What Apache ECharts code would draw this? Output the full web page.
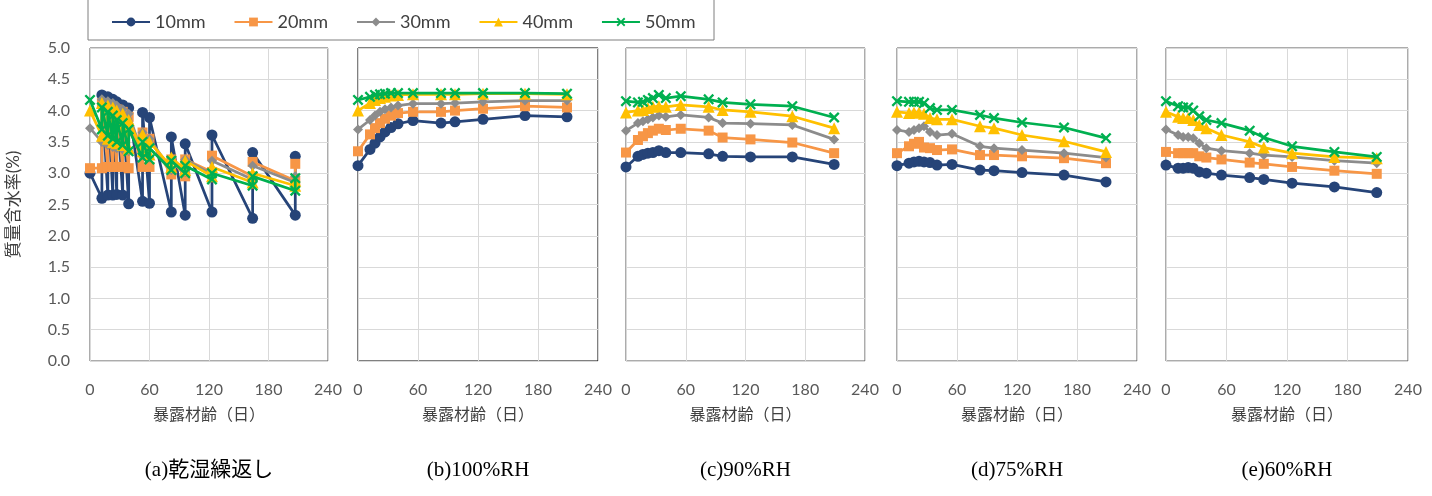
<!DOCTYPE html>
<html>
<head>
<meta charset="utf-8">
<script src="https://cdn.jsdelivr.net/npm/echarts@6/dist/echarts.min.js"></script>
<style>
  html, body { margin: 0; padding: 0; background: #fff; }
  #chart { width: 1432px; height: 496px; }
</style>
</head>
<body>
<div id="chart"></div>
<script>
// series names and panel captions
const seriesNames = ['10mm', '20mm', '30mm', '40mm', '50mm'];
const panelTitles = ['(a)乾湿繰返し', '(b)100%RH', '(c)90%RH', '(d)75%RH', '(e)60%RH'];
const xTicks = [0, 60, 120, 180, 240];

// (a) wet/dry cycles: each day after 0 has a dry and a wet reading
const daysA = [0, 12, 12, 18, 18, 23, 23, 27, 27, 33, 33, 39, 39, 53, 53, 60, 60, 82, 82, 96, 96, 123, 123, 164, 164, 207, 207];
const a10 = [3.00, 2.60, 4.25, 2.65, 4.22, 2.65, 4.18, 2.66, 4.14, 2.65, 4.09, 2.51, 4.04, 2.55, 3.97, 2.52, 3.89, 2.38, 3.58, 2.33, 3.47, 2.38, 3.61, 2.28, 3.33, 2.33, 3.27];
const a20 = [3.08, 3.08, 4.12, 3.10, 4.08, 3.10, 4.05, 3.10, 4.02, 3.10, 3.98, 3.08, 3.90, 3.10, 3.65, 3.10, 3.55, 2.98, 3.22, 2.95, 3.22, 3.02, 3.28, 2.95, 3.18, 2.88, 3.15];
const a30 = [3.72, 3.50, 4.18, 3.45, 4.15, 3.42, 4.12, 3.40, 4.08, 3.38, 4.02, 3.35, 3.95, 3.30, 3.65, 3.25, 3.55, 3.05, 3.22, 3.02, 3.22, 2.98, 3.20, 2.90, 3.12, 2.85, 2.95];
const a40 = [4.00, 3.60, 4.12, 3.55, 4.08, 3.50, 4.05, 3.48, 4.00, 3.45, 3.95, 3.40, 3.85, 3.35, 3.62, 3.30, 3.50, 3.10, 3.25, 3.05, 3.20, 2.95, 3.10, 2.85, 3.00, 2.80, 2.88];
const a50 = [4.17, 3.70, 4.05, 3.60, 3.98, 3.55, 3.92, 3.50, 3.85, 3.45, 3.80, 3.35, 3.70, 3.25, 3.50, 3.22, 3.40, 3.05, 3.20, 3.00, 3.12, 2.90, 3.00, 2.80, 2.95, 2.72, 2.92];

// (b)-(e) constant humidity
const days = [0, 12, 17, 22, 27, 33, 40, 55, 83, 97, 125, 167, 209];
const b10 = [3.12, 3.38, 3.48, 3.58, 3.66, 3.73, 3.79, 3.84, 3.80, 3.82, 3.86, 3.92, 3.90];
const b20 = [3.35, 3.62, 3.72, 3.80, 3.87, 3.92, 3.96, 3.98, 3.98, 4.00, 4.03, 4.07, 4.05];
const b30 = [3.70, 3.85, 3.92, 3.98, 4.02, 4.05, 4.08, 4.11, 4.11, 4.12, 4.14, 4.16, 4.16];
const b40 = [4.00, 4.12, 4.17, 4.20, 4.22, 4.24, 4.25, 4.26, 4.26, 4.26, 4.27, 4.27, 4.26];
const b50 = [4.17, 4.22, 4.25, 4.26, 4.27, 4.28, 4.28, 4.28, 4.28, 4.28, 4.28, 4.28, 4.27];

const c10 = [3.10, 3.27, 3.30, 3.32, 3.33, 3.36, 3.33, 3.33, 3.31, 3.27, 3.26, 3.26, 3.14];
const c20 = [3.33, 3.53, 3.59, 3.64, 3.68, 3.71, 3.69, 3.71, 3.68, 3.57, 3.54, 3.49, 3.32];
const c30 = [3.68, 3.80, 3.83, 3.86, 3.89, 3.92, 3.90, 3.93, 3.89, 3.80, 3.79, 3.77, 3.54];
const c40 = [3.97, 4.00, 4.01, 4.04, 4.06, 4.07, 4.06, 4.09, 4.06, 4.01, 3.98, 3.91, 3.72];
const c50 = [4.15, 4.13, 4.14, 4.17, 4.20, 4.25, 4.20, 4.23, 4.18, 4.13, 4.10, 4.07, 3.89];

const d10 = [3.12, 3.16, 3.18, 3.19, 3.18, 3.17, 3.13, 3.14, 3.05, 3.04, 3.01, 2.97, 2.86];
const d20 = [3.32, 3.43, 3.47, 3.50, 3.41, 3.40, 3.37, 3.38, 3.29, 3.29, 3.27, 3.24, 3.16];
const d30 = [3.69, 3.66, 3.69, 3.72, 3.75, 3.66, 3.61, 3.63, 3.43, 3.40, 3.37, 3.32, 3.25];
const d40 = [3.98, 3.96, 3.97, 3.97, 3.95, 3.88, 3.86, 3.86, 3.75, 3.72, 3.61, 3.51, 3.34];
const d50 = [4.15, 4.14, 4.14, 4.14, 4.12, 4.04, 4.01, 4.01, 3.93, 3.88, 3.81, 3.73, 3.56];

const e10 = [3.13, 3.08, 3.08, 3.09, 3.08, 3.02, 3.00, 2.97, 2.93, 2.90, 2.84, 2.78, 2.69];
const e20 = [3.34, 3.32, 3.32, 3.32, 3.32, 3.27, 3.25, 3.22, 3.17, 3.15, 3.10, 3.04, 2.99];
const e30 = [3.70, 3.61, 3.58, 3.58, 3.56, 3.48, 3.40, 3.36, 3.32, 3.29, 3.26, 3.20, 3.16];
const e40 = [3.98, 3.90, 3.88, 3.88, 3.85, 3.77, 3.72, 3.61, 3.50, 3.41, 3.32, 3.26, 3.24];
const e50 = [4.15, 4.07, 4.05, 4.05, 4.00, 3.91, 3.85, 3.80, 3.68, 3.57, 3.43, 3.34, 3.26];

const panels = [
  { x: daysA, ys: [a10, a20, a30, a40, a50] },
  { x: days, ys: [b10, b20, b30, b40, b50] },
  { x: days, ys: [c10, c20, c30, c40, c50] },
  { x: days, ys: [d10, d20, d30, d40, d50] },
  { x: days, ys: [e10, e20, e30, e40, e50] }
];

const colors = ['#264478', '#F79646', '#8C8C8C', '#FFC000', '#00B050'];
const crossPath = 'path://M0,1.5L1.5,0L5,3.5L8.5,0L10,1.5L6.5,5L10,8.5L8.5,10L5,6.5L1.5,10L0,8.5L3.5,5Z';
const symbols = ['circle', 'rect', 'diamond', 'triangle', crossPath];
const symbolSizes = [11, 10, 10, 12, 11];

const lefts = [90, 358, 626, 897, 1166];
const widths = [238, 240, 239, 240, 242];
const gridTop = 48, gridH = 313;
const labelFont = 'Lato, "Noto Sans CJK JP", sans-serif';

const chart = echarts.init(document.getElementById('chart'));

const grids = [], xAxes = [], yAxes = [], series = [], graphics = [];

graphics.push({
  type: 'rect', z: 0,
  shape: { x: 88, y: -5, width: 626, height: 45 },
  style: { fill: '#fff', stroke: '#7f7f7f', lineWidth: 1 }
});

panels.forEach((p, i) => {
  grids.push({
    left: lefts[i], top: gridTop, width: widths[i], height: gridH,
    show: true, borderColor: i === 1 ? '#000' : '#595959', borderWidth: 1, backgroundColor: 'transparent'
  });
  xAxes.push({
    gridIndex: i, type: 'value', min: 0, max: 240, interval: 60,
    axisLine: { show: false }, axisTick: { show: false },
    splitLine: { lineStyle: { color: '#D9D9D9', width: 1 } },
    axisLabel: { color: '#595959', fontSize: 16, fontFamily: labelFont, margin: 21 },
    name: '暴露材齢（日）', nameLocation: 'middle', nameGap: 46,
    nameTextStyle: { color: '#404040', fontSize: 16, fontFamily: labelFont }
  });
  yAxes.push({
    gridIndex: i, type: 'value', min: 0, max: 5, interval: 0.5,
    axisLine: { show: false }, axisTick: { show: false },
    splitLine: { lineStyle: { color: '#D9D9D9', width: 1 } },
    axisLabel: {
      show: i === 0, color: '#595959', fontSize: 16, fontFamily: labelFont, margin: 20,
      formatter: v => v.toFixed(1)
    },
    name: i === 0 ? '質量含水率(%)' : '', nameLocation: 'middle', nameRotate: 90, nameGap: 68,
    nameTextStyle: { color: '#404040', fontSize: 17, fontFamily: labelFont }
  });
  p.ys.forEach((ys, k) => {
    series.push({
      name: seriesNames[k], type: 'line', xAxisIndex: i, yAxisIndex: i,
      data: ys.map((v, j) => [p.x[j], v]),
      symbol: symbols[k], symbolSize: symbolSizes[k],
      lineStyle: { color: colors[k], width: 2.75 },
      itemStyle: { color: colors[k] },
      showSymbol: true, animation: false, z: 2 + k
    });
  });
  graphics.push({
    type: 'text',
    x: lefts[i] + widths[i] / 2, y: 470,
    style: {
      text: panelTitles[i], fill: '#000', fontSize: 21,
      fontFamily: '"Liberation Serif", "Noto Sans CJK JP", serif',
      textAlign: 'center', textVerticalAlign: 'middle'
    }
  });
});

chart.setOption({
  backgroundColor: '#fff',
  animation: false,
  grid: grids,
  xAxis: xAxes,
  yAxis: yAxes,
  legend: {
    data: seriesNames, left: 106, top: 8, itemGap: 28, itemWidth: 38, itemHeight: 11,
    textStyle: { color: '#404040', fontSize: 18, fontFamily: labelFont }, z: 10
  },
  graphic: graphics,
  series: series
});

window.addEventListener('resize', () => chart.resize());
</script>
</body>
</html>
